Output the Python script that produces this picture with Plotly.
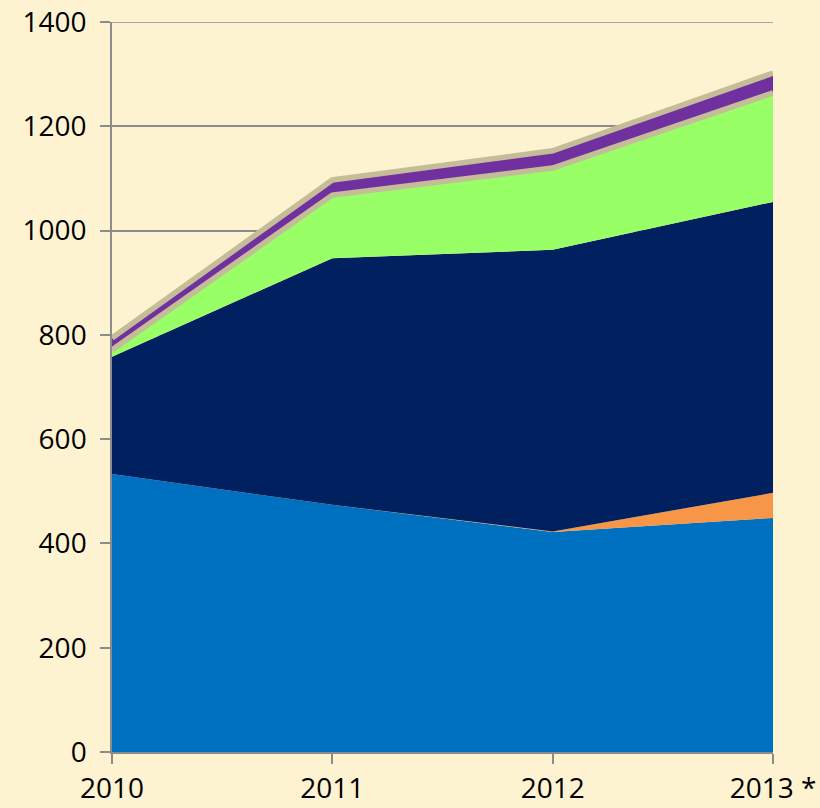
import plotly.graph_objects as go

# Categories and stacked series values
years = ["2010", "2011", "2012", "2013 *"]
blue_vals = [533, 474, 422, 449]
orange_vals = [0, 0, 1, 48]
navy_vals = [225, 473, 540, 558]
green_vals = [13, 121, 157, 209]
purple_vals = [23, 29, 33, 38]

y_ticks = [0, 200, 400, 600, 800, 1000, 1200, 1400]

BG = "#FEF3D1"
GRID = "#8C8C8C"
TAN = "#C4BD97"

series = [
    ("Blue", blue_vals, "#0070C0", None, 0),
    ("Orange", orange_vals, "#F79646", None, 0),
    ("Navy", navy_vals, "#002060", None, 0),
    ("Green", green_vals, "#99FF66", TAN, 5.5),
    ("Purple", purple_vals, "#7030A0", TAN, 5.5),
]

fig = go.Figure()
for name, vals, color, line_color, lw in series:
    fig.add_trace(go.Scatter(
        x=years,
        y=vals,
        name=name,
        mode="lines",
        stackgroup="one",
        fillcolor=color,
        line=dict(color=line_color or color, width=lw),
        hoverinfo="x+y+name",
    ))

# top gridline sits on the range edge, so draw it explicitly
fig.add_hline(y=y_ticks[-1], line_color=GRID, line_width=1.5, layer="below")

fig.update_layout(
    width=820,
    height=808,
    paper_bgcolor=BG,
    plot_bgcolor=BG,
    showlegend=False,
    margin=dict(l=112, r=47, t=22, b=56),
    font=dict(family="Open Sans, sans-serif", size=28, color="#000000"),
    xaxis=dict(
        type="category",
        range=[0, 3],
        automargin=False,
        showgrid=False,
        showline=True,
        linecolor=GRID,
        linewidth=1.5,
        ticks="outside",
        ticklen=10,
        tickcolor=GRID,
        tickwidth=1.5,
        zeroline=False,
        ticklabelstandoff=1,
    ),
    yaxis=dict(
        range=[0, 1400],
        tickvals=y_ticks,
        automargin=False,
        showgrid=True,
        gridcolor=GRID,
        gridwidth=1.5,
        showline=True,
        linecolor=GRID,
        linewidth=1.5,
        ticks="outside",
        ticklen=10,
        tickcolor=GRID,
        tickwidth=1.5,
        zeroline=False,
        ticklabelstandoff=8,
    ),
)

fig.write_html(
    "out.html",
    config={"displayModeBar": False},
    post_script="document.body.style.margin='0';",
)
